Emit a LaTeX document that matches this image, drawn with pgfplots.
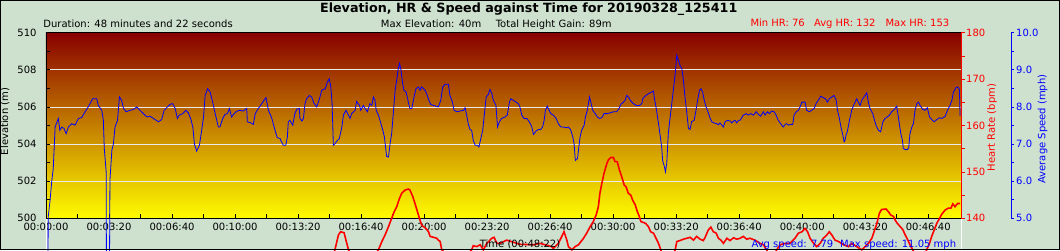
\documentclass[border=0pt]{standalone}
\usepackage{fontspec}
\setmainfont{DejaVu Sans}
\usepackage{pgfplots}
\usepackage{pgfplotstable}
\pgfplotsset{compat=1.18}
\definecolor{bgc}{RGB}{206,224,206}
\definecolor{topc}{RGB}{136,0,0}
\definecolor{botc}{RGB}{255,252,0}
\definecolor{hrred}{RGB}{255,0,0}
\definecolor{spblue}{RGB}{0,0,255}
\newcommand{\sm}{\fontsize{10}{12}\selectfont}

\pgfplotstableread{
t s
0 0
4 0
7 5.04
13 5.49
18 5.98
23 6.34
29 7.46
39 7.69
44 7.37
50 7.46
57 7.42
64 7.28
71 7.46
82 7.55
92 7.51
103 7.69
113 7.71
124 7.87
134 8.00
148 8.22
161 8.22
166 8.04
177 7.91
182 7.64
185 6.88
191 6.25
193 0
199 0
203 6.03
209 6.83
214 7.01
219 7.46
227 7.64
233 8.27
240 8.18
246 7.96
254 7.87
267 7.91
277 7.93
288 8.00
298 7.91
309 7.82
320 7.73
330 7.75
341 7.69
357 7.60
367 7.66
375 7.91
383 7.98
394 8.07
402 8.09
410 7.96
417 7.69
423 7.78
434 7.82
444 7.91
452 7.84
459 7.69
466 7.46
471 7.01
478 6.81
487 6.97
494 7.37
500 7.73
505 8.31
513 8.49
521 8.40
529 8.13
537 7.82
547 7.46
552 7.46
561 7.69
568 7.80
576 7.82
582 7.96
589 7.73
597 7.82
605 7.88
614 7.91
626 7.89
637 7.96
639 7.60
650 7.57
658 7.53
664 7.82
674 7.96
685 8.09
692 8.18
698 8.25
706 7.91
716 7.71
727 7.37
734 7.17
743 7.15
745 7.10
753 6.97
761 6.97
766 7.19
769 7.60
774 7.64
783 7.51
790 7.82
796 7.94
804 7.96
806 7.69
812 7.62
817 7.69
822 8.09
827 8.22
836 8.31
843 8.27
851 8.09
859 8.00
868 8.22
875 8.45
886 8.49
893 8.67
899 8.76
904 8.54
908 8.09
912 6.97
917 7.01
923 7.08
931 7.15
939 7.46
944 7.78
952 7.91
960 7.78
965 7.69
970 7.82
981 7.91
986 8.15
995 8.04
999 7.91
1007 8.04
1013 7.96
1020 7.87
1028 8.09
1034 8.04
1039 8.27
1044 8.18
1048 7.91
1055 7.78
1060 7.64
1069 7.37
1074 7.19
1081 6.67
1087 6.65
1092 7.01
1097 7.28
1103 7.91
1108 8.45
1113 8.72
1118 9.03
1122 9.17
1126 9.03
1132 8.63
1136 8.45
1143 8.40
1150 8.13
1155 7.96
1161 7.96
1168 8.27
1174 8.49
1182 8.54
1187 8.45
1192 8.54
1203 8.45
1208 8.36
1215 8.18
1221 8.07
1230 8.04
1238 8.02
1245 8.00
1253 8.18
1259 8.54
1267 8.61
1277 8.61
1282 8.31
1290 8.13
1295 7.91
1304 7.87
1314 7.89
1325 7.91
1330 7.98
1335 7.78
1341 7.51
1346 7.39
1351 7.37
1356 7.10
1362 6.97
1369 6.97
1374 6.92
1380 7.15
1386 7.37
1391 7.78
1397 8.27
1404 8.34
1409 8.47
1415 8.36
1420 8.18
1428 8.04
1433 7.46
1439 7.60
1446 7.69
1457 7.73
1464 7.78
1471 8.13
1475 8.22
1483 8.18
1492 8.13
1499 8.09
1504 8.00
1510 7.78
1517 7.69
1526 7.69
1534 7.60
1542 7.46
1547 7.26
1555 7.35
1563 7.39
1570 7.39
1576 7.46
1581 7.64
1585 7.91
1591 8.02
1598 7.89
1602 7.82
1610 7.78
1619 7.69
1626 7.55
1634 7.46
1642 7.46
1651 7.44
1658 7.46
1665 7.39
1672 7.19
1676 7.01
1680 6.56
1687 6.61
1691 6.92
1695 7.19
1700 7.37
1708 7.51
1712 7.73
1718 7.91
1725 8.27
1729 8.13
1735 7.91
1743 7.82
1750 7.73
1756 7.69
1764 7.71
1771 7.82
1780 7.82
1790 7.84
1801 7.87
1811 7.87
1819 7.96
1824 8.07
1830 8.11
1838 8.18
1843 8.31
1848 8.27
1856 8.16
1864 8.09
1873 8.04
1883 8.04
1891 8.09
1894 8.22
1901 8.29
1909 8.34
1917 8.38
1922 8.40
1928 8.43
1931 8.22
1936 8.00
1944 7.55
1949 7.24
1954 6.92
1957 6.56
1963 6.38
1966 6.25
1970 6.47
1975 7.28
1981 7.73
1986 8.09
1991 8.45
1997 8.90
2002 9.39
2007 9.26
2012 9.12
2018 9.03
2023 8.72
2028 8.27
2034 7.82
2039 7.42
2044 7.39
2049 7.60
2057 7.64
2063 7.91
2068 8.18
2074 8.45
2079 8.49
2084 8.40
2089 8.18
2095 8.00
2101 7.87
2108 7.69
2113 7.60
2120 7.57
2129 7.55
2134 7.52
2139 7.57
2145 7.51
2150 7.46
2155 7.60
2163 7.64
2171 7.62
2176 7.57
2182 7.62
2187 7.64
2192 7.57
2198 7.64
2203 7.64
2208 7.71
2213 7.78
2222 7.82
2229 7.78
2237 7.82
2245 7.78
2254 7.87
2261 7.80
2268 7.75
2277 7.87
2282 7.78
2290 7.87
2296 7.82
2303 7.89
2311 7.87
2317 7.78
2324 7.64
2330 7.57
2335 7.51
2340 7.46
2346 7.53
2351 7.55
2356 7.51
2364 7.53
2370 7.53
2374 7.78
2381 7.87
2388 7.91
2393 8.00
2399 8.13
2409 8.13
2414 7.91
2423 7.87
2430 7.91
2438 7.96
2444 8.09
2451 8.18
2459 8.29
2467 8.25
2474 8.22
2480 8.13
2486 8.22
2494 8.27
2501 8.31
2508 8.18
2512 7.91
2518 7.69
2523 7.46
2529 7.24
2533 7.06
2536 7.10
2539 7.24
2543 7.33
2550 7.64
2557 7.91
2563 8.04
2568 8.13
2573 8.22
2578 8.13
2584 8.04
2589 8.18
2596 8.27
2605 8.38
2610 8.13
2615 7.96
2624 7.82
2628 7.69
2634 7.51
2642 7.37
2649 7.33
2656 7.60
2663 7.69
2670 7.73
2677 7.78
2684 7.87
2692 7.93
2700 8.02
2705 7.73
2713 7.28
2718 7.10
2721 6.88
2727 6.85
2734 6.85
2738 6.90
2742 7.28
2748 7.46
2753 7.55
2758 7.91
2764 8.09
2769 8.13
2774 8.04
2783 7.93
2790 7.91
2797 7.98
2804 7.73
2811 7.66
2819 7.60
2827 7.66
2836 7.71
2843 7.69
2854 7.75
2861 7.91
2869 8.04
2875 8.18
2880 8.40
2888 8.52
2894 8.54
2899 8.47
2901 7.75
}\speedtable

\pgfplotstableread{
t hr
0 76
120 100
300 115
600 124
850 128
907 131
917 133.2
928 136.4
935 137.1
946 136.9
952 135.3
960 133.2
997 128
1055 133.2
1066 135.0
1076 136.4
1087 138.2
1097 140.0
1105 141.4
1113 142.5
1122 144.3
1129 145.4
1140 146.1
1150 146.3
1155 146.1
1164 144.7
1171 143.2
1179 141.4
1187 139.6
1192 138.6
1198 138.2
1206 137.8
1214 137.1
1219 136.1
1230 135.9
1240 135.7
1245 135.3
1251 135.0
1256 133.2
1304 130
1351 133.2
1356 134.1
1367 133.9
1378 134.3
1388 133.2
1399 134.6
1415 135.7
1422 135.9
1431 134.6
1441 134.6
1462 135.3
1504 134.4
1547 134.3
1568 134.6
1584 134.3
1605 133.9
1610 133.5
1626 134.6
1637 136.1
1644 137.1
1653 135.3
1658 133.9
1669 133.2
1679 133.9
1690 134.3
1706 135.7
1716 136.8
1727 138.2
1737 139.3
1746 140.7
1753 142.5
1758 145.4
1764 147.5
1771 149.7
1780 151.8
1785 152.6
1792 153.1
1801 153.1
1806 152.2
1813 152.2
1820 150.4
1827 149.0
1835 147.2
1841 146.8
1848 145.4
1856 145.0
1862 143.9
1870 142.9
1877 141.4
1883 140.4
1888 139.3
1896 139.1
1903 138.9
1912 138.2
1919 137.1
1928 136.8
1936 135.7
1944 134.6
1951 133.2
1970 130
1997 133.2
2002 135.0
2012 135.2
2023 135.5
2034 135.7
2044 135.9
2055 135.3
2065 136.1
2076 135.5
2086 135.2
2092 135.9
2102 137.5
2110 138.1
2118 137.1
2127 136.8
2134 135.7
2142 135.3
2150 134.6
2161 135.7
2171 135.2
2182 135.8
2192 135.5
2203 135.7
2213 136.1
2224 135.5
2234 135.7
2250 135.3
2266 134.6
2277 134.3
2287 133.2
2303 131
2319 133.2
2330 134.3
2346 134.6
2361 134.6
2377 135.7
2388 136.8
2399 137.1
2409 137.8
2417 137.1
2425 135.7
2436 134.6
2446 133.9
2457 134.6
2467 135.7
2478 136.4
2486 137.1
2494 136.4
2504 135.3
2515 135.0
2531 134.3
2547 133.9
2557 134.6
2573 133.9
2589 133.2
2600 133.9
2610 134.6
2621 135.7
2628 137.1
2637 138.9
2645 141.1
2652 141.9
2666 142.0
2674 141.4
2681 140.7
2690 140.4
2695 139.6
2702 138.9
2711 138.2
2719 137.6
2727 136.4
2734 135.5
2742 134.3
2751 133.2
2774 130
2795 133.2
2804 134.6
2811 136.1
2819 137.5
2827 138.9
2836 140.0
2843 140.9
2854 141.8
2864 142.2
2872 142.2
2878 143.1
2885 142.5
2893 143.2
2901 143.2
}\hrtable

\begin{document}
\begin{tikzpicture}[x=1pt,y=1pt]
\fill[bgc] (0pt,0pt) rectangle (1060pt,250pt);

% elevation axis with gradient background
\begin{axis}[
  at={(46pt,31.7pt)}, anchor=south west,
  width=915pt, height=185.6pt, scale only axis,
  xmin=0, xmax=2904, ymin=500, ymax=510,
  axis background/.style={top color=topc, bottom color=botc},
  xtick={0,200,...,2800},
  xticklabels={00:00:00,00:03:20,00:06:40,00:10:00,00:13:20,00:16:40,00:20:00,00:23:20,00:26:40,00:30:00,00:33:20,00:36:40,00:40:00,00:43:20,00:46:40},
  minor x tick num=1,
  ytick={500,502,504,506,508,510},
  yticklabels={500,502,504,506,508,510},
  minor y tick num=1,
  xtick pos=left, ytick pos=left,
  tick align=inside,
  major tick length=4pt, minor tick length=4pt,
  tick style={black, line width=0.8pt},
  ymajorgrids, grid style={white!92!black, line width=0.8pt},
  axis line style={black, line width=0.9pt},
  tick label style={font=\sm},
  xticklabel style={anchor=base, yshift=-11.7pt, inner sep=0pt},
  yticklabel style={anchor=east, xshift=-9.3pt, inner sep=0pt},
]
\end{axis}

% speed line
\begin{axis}[
  at={(46pt,31.7pt)}, anchor=south west,
  width=915pt, height=185.6pt, scale only axis,
  xmin=0, xmax=2904, ymin=5, ymax=10,
  hide axis, clip=false,
]
\addplot[spblue, line width=0.8pt] table[x=t, y=s] {\speedtable};
\end{axis}

% heart rate
\begin{axis}[
  at={(46pt,31.7pt)}, anchor=south west,
  width=915pt, height=185.6pt, scale only axis,
  xmin=0, xmax=2904, ymin=140, ymax=180,
  clip=false,
  axis x line=none, axis y line*=right,
  ytick={140,150,160,170,180},
  yticklabels={140,150,160,170,180},
  minor y tick num=1,
  tick align=outside,
  major tick length=4pt, minor tick length=4pt,
  y axis line style={hrred, line width=0.9pt},
  tick style={hrred, line width=0.8pt},
  yticklabel style={hrred, font=\sm, anchor=west, inner sep=0pt, xshift=1pt},
]
\addplot[hrred, line width=1.6pt] table[x=t, y=hr] {\hrtable};
\end{axis}

% speed scale
\begin{axis}[
  at={(1011pt,31.7pt)}, anchor=south east,
  width=1pt, height=185.6pt, scale only axis,
  xmin=0, xmax=1, ymin=5, ymax=10,
  axis x line=none, axis y line*=right,
  ytick={5,6,7,8,9,10},
  yticklabels={5.0,6.0,7.0,8.0,9.0,10.0},
  minor y tick num=1,
  tick align=outside,
  major tick length=3pt, minor tick length=3pt,
  y axis line style={spblue, line width=0.9pt},
  tick style={spblue, line width=0.8pt},
  yticklabel style={spblue, font=\sm, anchor=west, inner sep=0pt, xshift=2pt},
]
\end{axis}

% white lines below the plot
\draw[white, line width=1pt] (46pt,0pt) -- (46pt,31.2pt);
\draw[white, line width=1pt] (961pt,0pt) -- (961pt,31.2pt);

% axis titles
\node[rotate=90, font=\sm, inner sep=0pt] at (5pt,128.5pt) {Elevation (m)};
\node[rotate=90, font=\sm, text=hrred, inner sep=0pt] at (992pt,122.5pt) {Heart Rate (bpm)};
\node[rotate=90, font=\sm, text=spblue, inner sep=0pt] at (1042.5pt,121pt) {Average Speed (mph)};

% header
\node[anchor=base, inner sep=0pt, font=\fontsize{12.7}{15}\selectfont\bfseries] at (528.7pt,237.8pt) {Elevation, HR \& Speed against Time for 20190328\_125411};
\node[anchor=base west, inner sep=0pt, font=\sm] at (43.2pt,223pt) {Duration: 48 minutes and 22 seconds};
\node[anchor=base west, inner sep=0pt, font=\sm] at (380.7pt,223pt) {Max Elevation: 40m};
\node[anchor=base west, inner sep=0pt, font=\sm] at (495.6pt,223pt) {Total Height Gain: 89m};
\node[anchor=base west, inner sep=0pt, font=\sm, text=hrred] at (750.3pt,223.5pt) {Min HR: 76};
\node[anchor=base west, inner sep=0pt, font=\sm, text=hrred] at (813.8pt,223.5pt) {Avg HR: 132};
\node[anchor=base west, inner sep=0pt, font=\sm, text=hrred] at (885.4pt,223.5pt) {Max HR: 153};

% footer
\node[anchor=base west, inner sep=0pt, font=\sm] at (479.7pt,3pt) {Time (00:48:22)};
\node[anchor=base west, inner sep=0pt, font=\sm, text=spblue] at (751.3pt,3pt) {Avg speed: 7.79};
\node[anchor=base west, inner sep=0pt, font=\sm, text=spblue] at (840pt,3pt) {Max speed: 11.05 mph};

\draw[black, line width=1.2pt] (0.6pt,0.6pt) rectangle (1059.4pt,249.4pt);
\pgfresetboundingbox
\useasboundingbox (0pt,0pt) rectangle (1060pt,250pt);
\end{tikzpicture}
\end{document}
